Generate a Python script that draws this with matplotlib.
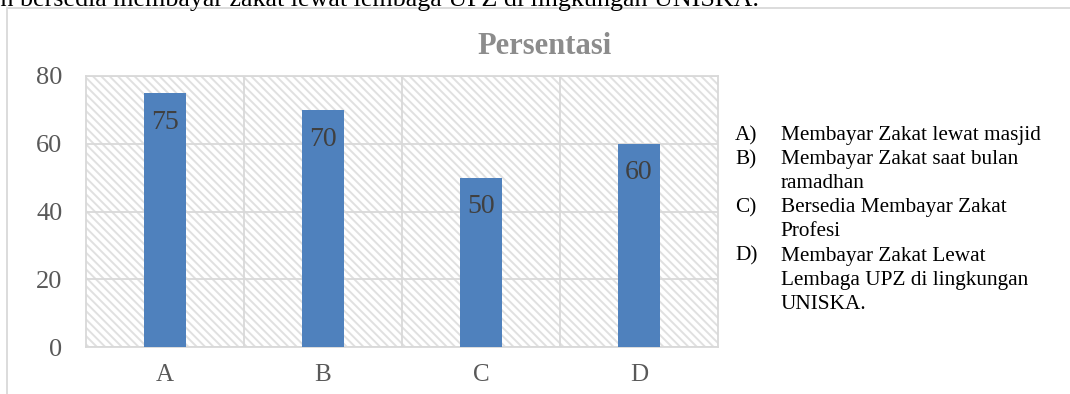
import matplotlib.pyplot as plt
from matplotlib.patches import Rectangle

categories = ["A", "B", "C", "D"]
persentasi = [75, 70, 50, 60]
y_ticks = [0, 20, 40, 60, 80]
legend_keys = ["A)", "B)", "", "C)", "", "D)", "", ""]
legend_lines = ["Membayar Zakat lewat masjid",
                "Membayar Zakat saat bulan",
                "ramadhan",
                "Bersedia Membayar Zakat",
                "Profesi",
                "Membayar Zakat Lewat",
                "Lembaga UPZ di lingkungan",
                "UNISKA."]

W, H = 1070, 394
fig = plt.figure(figsize=(W / 100, H / 100), dpi=100)
serif = "Liberation Serif"
plt.rcParams["hatch.linewidth"] = 1.4

# clipped caption line from the document above the chart
fig.text(-0.01, 1 - 6 / H,
         "an bersedia membayar zakat lewat lembaga UPZ di lingkungan UNISKA.",
         family=serif, fontsize=18.7, color="black", va="baseline", ha="left")

# chart frame
fig.add_artist(Rectangle((7 / W, -0.05), 1.2, 1 - 8 / H + 0.05,
                         transform=fig.transFigure, fill=False,
                         edgecolor="#D9D9D9", lw=1.3))

ax = fig.add_axes([86 / W, (H - 347) / H, 632 / W, (347 - 76) / H])
ax.add_patch(Rectangle((0, 0), 1, 1, transform=ax.transAxes, fill=False,
                       hatch="\\\\\\\\", edgecolor="#E0E0E0", lw=0, zorder=0))

x = range(len(categories))
bars = ax.bar(x, persentasi, width=0.27, color="#4F81BD", zorder=3)
for b, v in zip(bars, persentasi):
    ax.annotate(str(v), (b.get_x() + b.get_width() / 2, v),
                xytext=(0, -12), textcoords="offset points",
                ha="center", va="top", family=serif, fontsize=20,
                color="#404040", zorder=4)

ax.set_xlim(-0.5, 3.5)
ax.set_ylim(0, 80)
ax.set_yticks(y_ticks)
ax.set_xticks(list(x))
ax.set_xticklabels(categories)
ax.set_xticks([0.5, 1.5, 2.5], minor=True)
ax.grid(axis="y", which="major", color="#D9D9D9", lw=1.3, zorder=1)
ax.grid(axis="x", which="minor", color="#D9D9D9", lw=1.3, zorder=1)
ax.tick_params(axis="both", which="both", length=0)
ax.tick_params(axis="y", labelsize=19, labelcolor="#595959", pad=17)
ax.tick_params(axis="x", labelsize=18, labelcolor="#595959", pad=12)
for lab in ax.get_xticklabels() + ax.get_yticklabels():
    lab.set_family(serif)
for s in ax.spines.values():
    s.set_color("#D9D9D9")
    s.set_linewidth(1.3)

fig.text(545 / W, 1 - 47 / H, "Persentasi", family=serif, fontsize=22,
         fontweight="bold", color="#8C8C8C", ha="center", va="center")

# legend as plain text lines, placed in pixels from the top
for i, (k, t) in enumerate(zip(legend_keys, legend_lines)):
    yy = H - (140 + i * 24.1)
    if k:
        fig.text(735, yy, k, family=serif, fontsize=15.3, ha="left",
                 va="baseline", transform=None)
    fig.text(780.6, yy, t, family=serif, fontsize=15.3, ha="left",
             va="baseline", transform=None)

fig.savefig("out.png", dpi=100)
